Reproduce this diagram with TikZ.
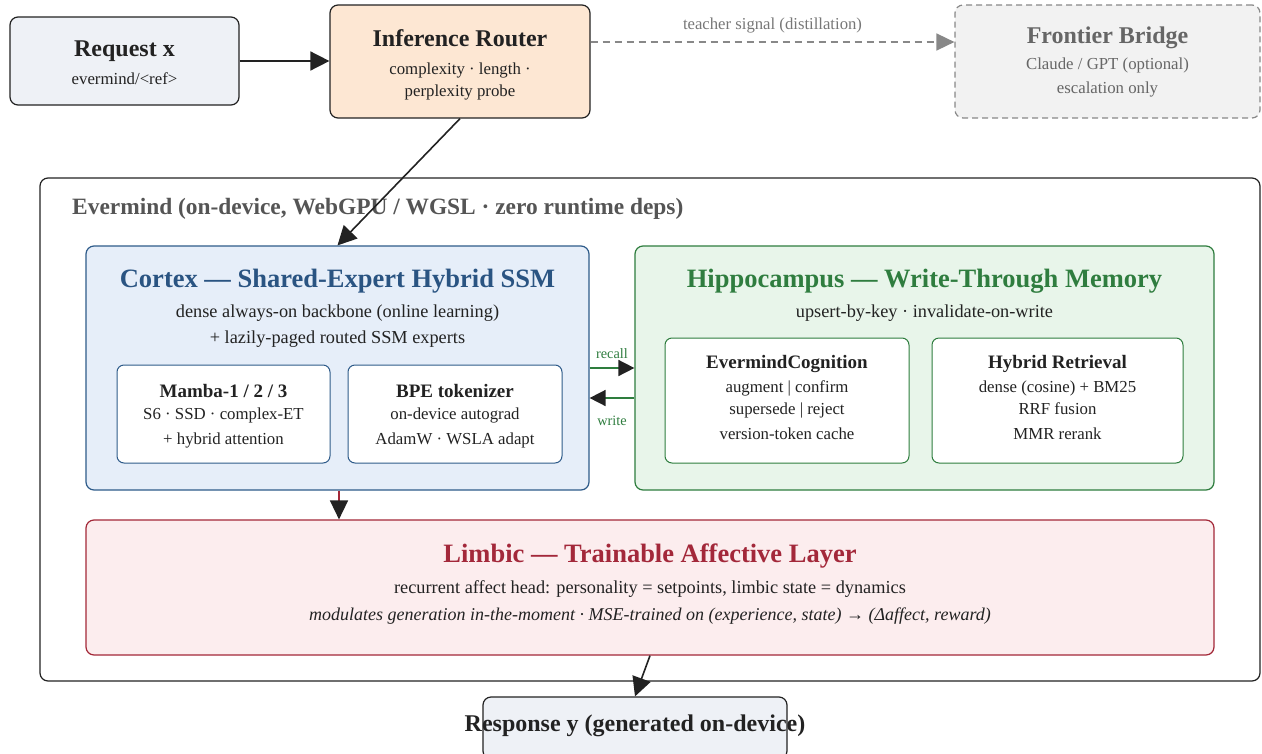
\documentclass[tikz,border=0pt]{standalone}
\usepackage{fontspec}
\setmainfont{Liberation Serif}
\usetikzlibrary{arrows.meta,calc}

\definecolor{inkc}{HTML}{222222}
\definecolor{reqfill}{HTML}{EEF1F6}
\definecolor{routfill}{HTML}{FDE7D3}
\definecolor{greyline}{HTML}{888888}
\definecolor{greytext}{HTML}{777777}
\definecolor{frontfill}{HTML}{F2F2F2}
\definecolor{frontink}{HTML}{666666}
\definecolor{evtext}{HTML}{555555}
\definecolor{cortfill}{HTML}{E6EEF9}
\definecolor{cortline}{HTML}{2E5B8A}
\definecolor{cortink}{HTML}{2A5482}
\definecolor{hipfill}{HTML}{E8F5EA}
\definecolor{hipline}{HTML}{2E7D3E}
\definecolor{hipink}{HTML}{2F7D3F}
\definecolor{limfill}{HTML}{FCEDEE}
\definecolor{limline}{HTML}{A32838}
\definecolor{limink}{HTML}{A3283A}

\newcommand{\fsz}[1]{\fontsize{#1}{#1}\selectfont}

\tikzset{
  box/.style={draw=inkc, line width=1.2pt, rounded corners=8pt, inner sep=0pt},
  subbox/.style={draw, line width=1pt, fill=white, rounded corners=7pt, inner sep=0pt},
  % text lines are centred on a fixed box so descenders do not shift them
  tx/.style 2 args={font=\fsz{#1}#2, inner sep=0pt, text height=0.68*#1pt, text depth=0pt},
  ttl/.style={tx={24}{\bfseries}, text=inkc},
  bigttl/.style={tx={26.5}{\bfseries}},
  body/.style={tx={18.3}{}, text=inkc},
  bodyit/.style={tx={18}{\itshape}, text=inkc},
  small/.style={tx={16.8}{}, text=inkc},
  subttl/.style={tx={19}{\bfseries}, text=inkc},
  flow/.style={draw=inkc, line width=1.6pt, -{Triangle[length=19pt,width=19pt]}},
  sideflow/.style={line width=1.6pt, -{Triangle[length=16pt,width=16pt,fill=inkc,color=inkc]}},
}

\begin{document}
\begin{tikzpicture}[x=1pt,y=-1pt]
\useasboundingbox (0,0) rectangle (1262,753);

% top row
\node[box, fill=reqfill, minimum width=229pt, minimum height=88pt] (req) at (124.5,61) {};
\node[ttl] (reqt) at (124.5,48) {Request x};
\node[small] (reqs) at (124.5,79) {evermind/<ref>};

\node[box, fill=routfill, minimum width=260pt, minimum height=113pt] (router) at (460,61.5) {};
\node[ttl] (routt) at (460,38) {Inference Router};
\node[small] (rout1) at (460,69) {complexity · length ·};
\node[small] (rout2) at (460,91) {perplexity probe};

\node[box, draw=greyline, dashed, dash pattern=on 6pt off 4pt, fill=frontfill,
      minimum width=305pt, minimum height=113pt] (front) at (1107.5,61.5) {};
\node[ttl, text=frontink] (frontt) at (1107.5,35) {Frontier Bridge};
\node[small, text=frontink] (front1) at (1107.5,64) {Claude / GPT (optional)};
\node[small, text=frontink] (front2) at (1107.5,88) {escalation only};

% on-device container
\node[box, fill=white, minimum width=1220pt, minimum height=503pt] (ever) at (650,429.5) {};
\node[tx={23.4}{\bfseries}, text=evtext, anchor=west] (evert) at (72,207) {Evermind (on-device, WebGPU / WGSL · zero runtime deps)};

% cortex
\node[box, draw=cortline, fill=cortfill, minimum width=503pt, minimum height=244pt] (cortex) at (337.5,368) {};
\node[bigttl, text=cortink] (cortt) at (337.5,278) {Cortex — Shared-Expert Hybrid SSM};
\node[body] (cort1) at (337.5,311) {dense always-on backbone (online learning)};
\node[body] (cort2) at (337.5,337) {+ lazily-paged routed SSM experts};

\node[subbox, draw=cortline, minimum width=213pt, minimum height=98pt] (mamba) at (223.5,414) {};
\node[subttl] (mambat) at (223.5,391) {Mamba-1 / 2 / 3};
\node[small] (mamba1) at (223.5,414) {S6 · SSD · complex-ET};
\node[small] (mamba2) at (223.5,439) {+ hybrid attention};

\node[subbox, draw=cortline, minimum width=214pt, minimum height=98pt] (bpe) at (455,414) {};
\node[subttl] (bpet) at (455,391) {BPE tokenizer};
\node[small] (bpe1) at (455,414) {on-device autograd};
\node[small] (bpe2) at (455,439) {AdamW · WSLA adapt};

% hippocampus
\node[box, draw=hipline, fill=hipfill, minimum width=579pt, minimum height=244pt] (hippo) at (924.5,368) {};
\node[bigttl, text=hipink] (hipt) at (924.5,278) {Hippocampus — Write-Through Memory};
\node[body] (hip1) at (924.5,311) {upsert-by-key · invalidate-on-write};

\node[subbox, draw=hipline, minimum width=244pt, minimum height=125pt] (cogn) at (787,400.5) {};
\node[subttl] (cognt) at (787,362) {EvermindCognition};
\node[small] (cogn1) at (787,387) {augment | confirm};
\node[small] (cogn2) at (787,409) {supersede | reject};
\node[small] (cogn3) at (787,434) {version-token cache};

\node[subbox, draw=hipline, minimum width=251pt, minimum height=125pt] (hret) at (1057.5,400.5) {};
\node[subttl] (hrett) at (1057.5,362) {Hybrid Retrieval};
\node[small] (hret1) at (1057.5,387) {dense (cosine) + BM25};
\node[small] (hret2) at (1057.5,409) {RRF fusion};
\node[small] (hret3) at (1057.5,434) {MMR rerank};

% limbic
\node[box, draw=limline, fill=limfill, minimum width=1128pt, minimum height=135pt] (limbic) at (650,587.5) {};
\node[bigttl, text=limink] (limt) at (650,553) {Limbic — Trainable Affective Layer};
\node[body] (lim1) at (650,587) {recurrent affect head: personality = setpoints, limbic state = dynamics};
\node[bodyit] (lim2) at (650,614) {modulates generation in-the-moment · MSE-trained on (experience, state) → (Δaffect, reward)};

% response
\node[box, fill=reqfill, minimum width=304pt, minimum height=62pt] (resp) at (635,728) {};
\node[ttl] (respt) at (635,723) {Response y (generated on-device)};

% connectors
\draw[flow] (req.east) -- (req.east -| router.west);
\draw[draw=greyline, line width=1.6pt, dash pattern=on 7pt off 5pt,
      -{Triangle[length=18pt,width=17pt,fill=greyline]}]
  ([yshift=19.5pt]router.east) -- ([yshift=19.5pt]router.east -| front.west)
  node[midway, above=12pt, tx={16.7}{}, text=greytext] (tlab) {teacher signal (distillation)};
\draw[flow] (router.south) -- (cortex.north);
\draw[sideflow, draw=hipline] (cortex.east) -- (cortex.east -| hippo.west)
  node[midway, above=9pt, tx={14.3}{}, text=hipink] (rlab) {recall};
\draw[sideflow, draw=hipline] ([yshift=-30pt]hippo.west) -- ([yshift=-30pt]hippo.west -| cortex.east)
  node[midway, below=17pt, tx={14.3}{}, text=hipink] (wlab) {write};
\draw[line width=1.6pt, draw=limline, -{Triangle[length=19pt,width=18pt,fill=inkc,color=inkc]}]
  ([xshift=1.5pt]cortex.south) -- ([xshift=1.5pt]cortex.south |- limbic.north);
\draw[flow] (limbic.south) -- (resp.north);
\end{tikzpicture}
\end{document}
